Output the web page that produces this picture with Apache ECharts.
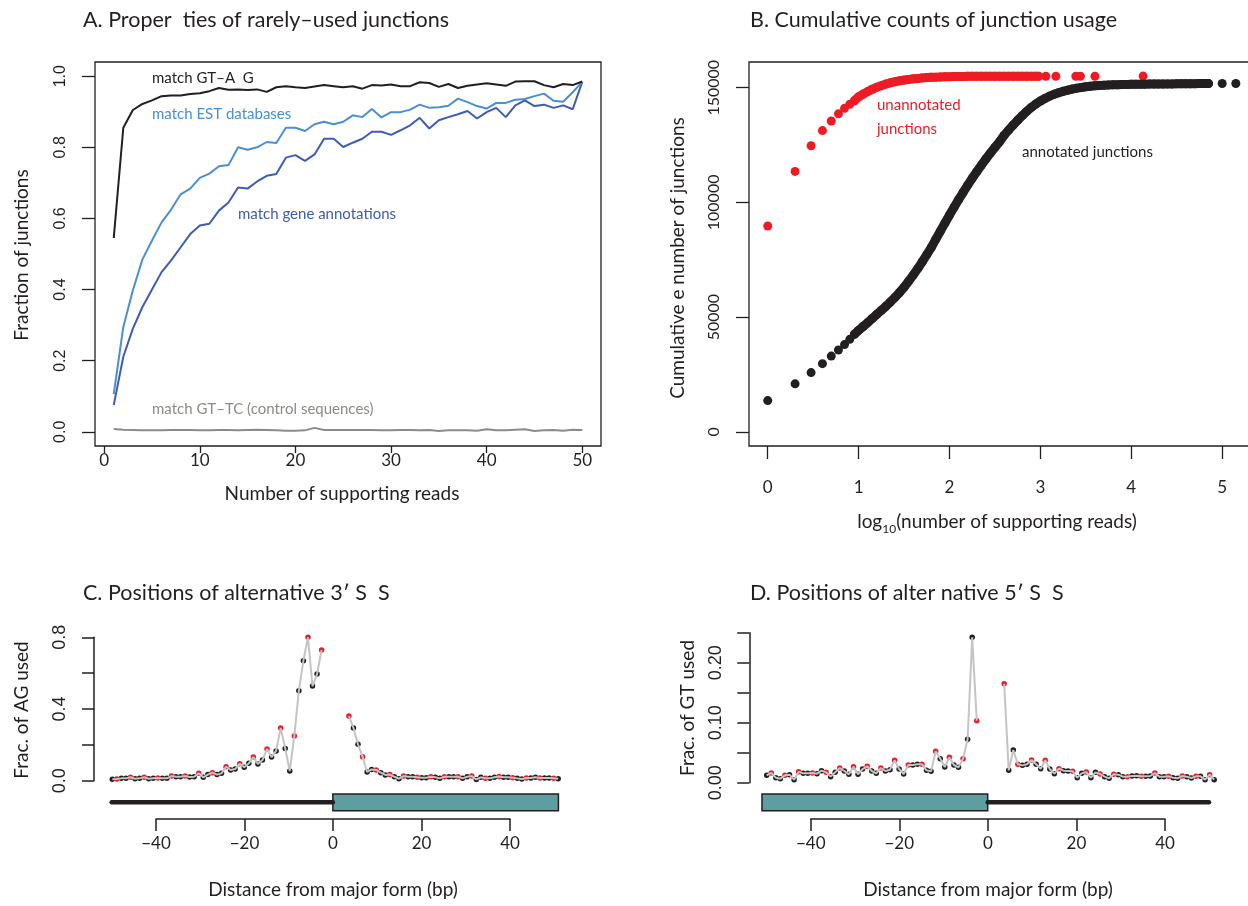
<!DOCTYPE html>
<html>
<head>
<meta charset="utf-8">
<script src="https://cdn.jsdelivr.net/npm/echarts@6/dist/echarts.min.js"></script>
<style>
  html, body { margin: 0; padding: 0; background: #ffffff; }
  #main { width: 1248px; height: 906px; }
</style>
</head>
<body>
<div id="main"></div>
<script>
// ---- panel A: fraction of junctions vs number of supporting reads
var readCounts = [1,2,3,4,5,6,7,8,9,10,11,12,13,14,15,16,17,18,19,20,21,22,23,24,25,
  26,27,28,29,30,31,32,33,34,35,36,37,38,39,40,41,42,43,44,45,46,47,48,49,50];
var fracGTAG = [0.545,0.855,0.905,0.922,0.932,0.944,0.946,0.946,0.950,0.952,0.958,0.967,0.962,0.963,0.961,
  0.963,0.956,0.969,0.972,0.969,0.967,0.971,0.975,0.972,0.969,0.972,0.965,0.975,0.974,0.977,
  0.972,0.972,0.983,0.981,0.970,0.978,0.967,0.973,0.977,0.980,0.977,0.973,0.985,0.986,0.986,
  0.975,0.969,0.978,0.975,0.985];
var fracEST = [0.106,0.295,0.398,0.485,0.538,0.589,0.625,0.668,0.684,0.714,0.726,0.747,0.750,0.800,0.793,
  0.800,0.815,0.812,0.855,0.855,0.846,0.865,0.872,0.865,0.872,0.890,0.885,0.908,0.884,0.899,
  0.899,0.906,0.920,0.911,0.913,0.917,0.937,0.927,0.916,0.909,0.925,0.925,0.934,0.936,0.944,
  0.951,0.931,0.928,0.955,0.984];
var fracGene = [0.075,0.211,0.290,0.351,0.400,0.449,0.482,0.519,0.556,0.580,0.585,0.622,0.645,0.687,0.684,
  0.704,0.720,0.725,0.771,0.778,0.762,0.780,0.824,0.824,0.801,0.813,0.824,0.844,0.844,0.835,
  0.848,0.862,0.883,0.853,0.876,0.885,0.893,0.902,0.881,0.899,0.911,0.885,0.918,0.932,0.916,
  0.920,0.911,0.918,0.907,0.984];
var fracGTTC = [0.008,0.006,0.005,0.004,0.004,0.004,0.005,0.005,0.005,0.004,0.004,0.005,0.005,0.004,0.005,
  0.006,0.005,0.004,0.003,0.003,0.004,0.011,0.005,0.005,0.005,0.005,0.005,0.005,0.004,0.004,
  0.005,0.005,0.004,0.005,0.002,0.004,0.004,0.004,0.003,0.007,0.004,0.004,0.006,0.007,0.002,
  0.004,0.005,0.003,0.006,0.005];

// ---- panel B: cumulative counts, x = log10(number of supporting reads)
var annotLog = [0,0.301,0.477,0.602,0.699,0.778,0.845,0.903,0.954,
  1.00,1.05,1.10,1.15,1.20,1.25,1.30,1.35,1.40,1.45,1.50,1.55,1.60,1.65,1.70,1.75,1.80,1.85,1.90,1.95,
  2.00,2.05,2.10,2.15,2.20,2.25,2.30,2.35,2.40,2.45,2.50,2.55,2.60,2.65,2.70,2.75,2.80,2.85,2.90,2.95,
  3.00,3.05,3.10,3.15,3.20,3.25,3.30,3.35,3.40,3.45,3.50,3.55,3.60,3.65,3.70,3.75,3.80,3.85,3.90,3.95,
  4.00,4.05,4.10,4.15,4.20,4.25,4.30,4.35,4.40,4.45,4.50,4.55,4.60,4.65,4.70,4.75,4.80,4.85,5.00,5.15];
var annotCum = [13600,20900,25800,29700,33000,35650,38000,40300,42500,
  44200,45900,47600,49400,51200,52900,54700,56600,58600,60700,63000,65600,68300,71100,74100,77200,80400,84000,87500,91000,
  94500,97900,101200,104400,107500,110500,113400,116200,118900,121500,124000,126400,129200,131500,133700,135800,137800,139700,141400,142900,
  144200,145300,146300,147100,147800,148400,148900,149400,149800,150100,150400,150650,150850,151000,151100,151200,151250,151300,151350,151400,
  151450,151480,151500,151530,151560,151580,151600,151620,151640,151660,151680,151700,151720,151740,151760,151780,151800,151800,151820,151820];
var unannotLog = [0,0.301,0.477,0.602,0.699,0.778,0.845,0.903,0.954,
  1.00,1.05,1.10,1.15,1.20,1.25,1.30,1.35,1.40,1.45,1.50,1.55,1.60,1.65,1.70,1.75,1.80,1.85,1.90,1.95,
  2.00,2.05,2.10,2.15,2.20,2.25,2.30,2.35,2.40,2.45,2.50,2.55,2.60,2.65,2.70,2.75,2.80,2.85,
  2.90,2.94,2.98,3.06,3.17,3.39,3.44,3.60,4.13];
var unannotCum = [89700,113500,124700,131300,135500,138600,141000,142800,144300,
  146000,147200,148300,149300,150200,150900,151600,152100,152600,153000,153300,153600,153850,154050,154250,154400,154500,154600,154700,154750,
  154800,154850,154900,154900,154950,154950,154950,155000,155000,155000,155000,155000,155000,155000,155000,155000,155000,155000,
  155000,155000,155000,155000,155000,155000,155000,155000,155050];
// beyond ~9 reads the original dots overlap into a solid band; these are where each band ends
var annotBand = [0.954, 4.85];
var unannotBand = [0.954, 2.98];

// ---- panel C: alternative 3' splice sites
var cPos = [-49,-48,-47,-46,-45,-44,-43,-42,-41,-40,-39,-38,-37,-36,-35,-34,-33,-32,-31,-30,-29,-28,-27,-26,
  -25,-24,-23,-22,-21,-20,-19,-18,-17,-16,-15,-14,-13,-12,-11,-10,-9,-8,-7,-6,-5,-4,-3,
  3,4,5,6,7,8,9,10,11,12,13,14,15,16,17,18,19,20,21,22,23,24,25,26,27,28,29,30,31,32,33,34,35,36,
  37,38,39,40,41,42,43,44,45,46,47,48,49];
var cFrac = [0.008,0.009,0.013,0.013,0.019,0.011,0.013,0.019,0.011,0.013,0.015,0.013,0.013,0.026,0.022,0.022,
  0.026,0.021,0.022,0.041,0.019,0.034,0.045,0.034,0.041,0.078,0.060,0.065,0.095,0.075,0.097,0.132,
  0.093,0.115,0.177,0.132,0.166,0.294,0.180,0.054,0.249,0.502,0.669,0.800,0.528,0.595,0.729,
  0.361,0.294,0.203,0.134,0.049,0.063,0.060,0.045,0.032,0.034,0.022,0.011,0.026,0.022,0.022,0.019,
  0.017,0.017,0.022,0.019,0.013,0.022,0.022,0.022,0.022,0.013,0.022,0.026,0.007,0.019,0.013,0.013,
  0.019,0.024,0.019,0.019,0.017,0.013,0.009,0.015,0.015,0.019,0.015,0.015,0.015,0.013,0.011];
var cIntron = [-50, 0];
var cExon = [0, 51];

// ---- panel D: alternative 5' splice sites
var dPos = cPos.slice();
var dFrac = [0.0123,0.0162,0.0084,0.0067,0.0123,0.0134,0.0051,0.0184,0.0156,0.0156,0.0162,0.0151,0.0201,
  0.0173,0.0101,0.0173,0.0245,0.0195,0.0139,0.0267,0.0139,0.0228,0.0273,0.0195,0.0156,0.0245,0.0195,
  0.0217,0.0373,0.0228,0.0145,0.0295,0.0295,0.0306,0.0306,0.0206,0.0189,0.0523,0.0401,0.0262,0.0423,
  0.0295,0.0256,0.0401,0.0723,0.2423,0.1034,
  0.165,0.0206,0.0545,0.0306,0.0289,0.0306,0.0378,0.0306,0.0234,0.0373,0.0228,0.0151,0.0234,0.0201,
  0.0195,0.0189,0.0084,0.0156,0.0178,0.0084,0.0173,0.0145,0.0101,0.0073,0.0139,0.0134,0.0101,0.0101,
  0.0112,0.0117,0.0106,0.0106,0.0112,0.0162,0.0101,0.0101,0.0106,0.0084,0.0073,0.0112,0.0101,0.0078,
  0.0106,0.0106,0.0051,0.0134,0.0051];
var dExon = [-51, 0];
var dIntron = [0, 50];

var INK = '#231f20';
var RED = '#ed1c24';
var MYRIAD = 'Lato';
var HELV = 'Liberation Sans';

function zip(xs, ys) {
  var out = [];
  for (var i = 0; i < xs.length; i++) out.push([xs[i], ys[i]]);
  return out;
}
function band(xs, ys, range) {
  return zip(xs, ys).filter(function (p) { return p[0] >= range[0] && p[0] <= range[1]; });
}
// gray connecting line, broken between the two flanks
function splitLine(pos, vals) {
  var out = [];
  for (var i = 0; i < pos.length; i++) {
    if (i > 0 && pos[i] - pos[i - 1] > 1) out.push([0, '-']);
    out.push([pos[i], vals[i]]);
  }
  return out;
}
// in-frame positions (multiple of 3) are red
function framePts(pos, vals, inFrame) {
  var out = [];
  for (var i = 0; i < pos.length; i++) {
    if ((pos[i] % 3 === 0) === inFrame) out.push([pos[i], vals[i]]);
  }
  return out;
}
function exonItem(params, api) {
  var p0 = api.coord([api.value(0), 1]);
  var p1 = api.coord([api.value(1), 0]);
  return {
    type: 'rect',
    shape: { x: p0[0], y: p0[1], width: p1[0] - p0[0], height: p1[1] - p0[1] },
    style: { fill: '#5f9ea0', stroke: INK, lineWidth: 1.5 }
  };
}
function minus(v) { return v < 0 ? '\u2212' + Math.abs(v) : String(v); }

var hidden = { show: false };
function hiddenAxis(grid, min, max) {
  return { gridIndex: grid, type: 'value', min: min, max: max, show: false };
}

var chart = echarts.init(document.getElementById('main'), null, { renderer: 'canvas' });

function grid(l, t, w, h, box) {
  var g = { left: l, top: t, width: w, height: h, containLabel: false, outerBoundsMode: 'none' };
  if (box) { g.show = true; g.borderColor = INK; g.borderWidth = 1.3; g.backgroundColor = 'transparent'; }
  return g;
}

var tickStyle = { color: INK, width: 1.3 };
var axisLineOn = { show: true, onZero: false, lineStyle: { color: INK, width: 1.5 } };
var axisLineOff = { show: false, onZero: false };
var dot = function (c) { return { color: c, opacity: 1, borderWidth: 0 }; };
var titleStyle = { fontFamily: MYRIAD, fontSize: 21.5, fontWeight: 'normal', color: INK };

var option = {
  animation: false,
  backgroundColor: '#ffffff',
  title: [
    { text: 'A. Proper  ties of rarely\u2013used junctions', left: 83, top: 9, padding: 0, textStyle: titleStyle },
    { text: 'B. Cumulative counts of junction usage', left: 750, top: 9, padding: 0, textStyle: titleStyle },
    { text: 'C. Positions of alternative 3\u2032 S  S', left: 83, top: 582, padding: 0, textStyle: titleStyle },
    { text: 'D. Positions of alter native 5\u2032 S  S', left: 750, top: 582, padding: 0, textStyle: titleStyle }
  ],
  grid: [
    grid(95, 62, 506, 384, true),        // 0 A
    grid(749, 62, 505, 384, true),       // 1 B
    grid(112.3, 637.3, 445.9, 143.4),    // 2 C points
    grid(111.7, 794, 442.3, 16.7),       // 3 C gene model
    grid(156, 818, 354, 1),              // 4 C axis
    grid(766.7, 632.7, 447.5, 150),      // 5 D points
    grid(766.4, 794, 442.6, 16.7),       // 6 D gene model
    grid(810.7, 818, 354.3, 1)           // 7 D axis
  ],
  xAxis: [
    { gridIndex: 0, type: 'value', min: -0.96, max: 51.96, position: 'bottom',
      axisLine: axisLineOff, splitLine: hidden,
      axisTick: { show: true, length: 7, customValues: [0, 10, 20, 30, 40, 50], lineStyle: tickStyle },
      axisLabel: { customValues: [0, 10, 20, 30, 40, 50], margin: 6, fontFamily: MYRIAD, fontSize: 17, color: INK } },
    { gridIndex: 1, type: 'value', min: -0.206, max: 5.35, position: 'bottom',
      axisLine: axisLineOff, splitLine: hidden,
      axisTick: { show: true, length: 13, customValues: [0, 1, 2, 3, 4, 5], lineStyle: tickStyle },
      axisLabel: { customValues: [0, 1, 2, 3, 4, 5], margin: 33, fontFamily: MYRIAD, fontSize: 17, color: INK } },
    hiddenAxis(2, -49, 49),
    hiddenAxis(3, -50, 50),
    { gridIndex: 4, type: 'value', min: -40, max: 40, interval: 20, position: 'bottom',
      axisLine: axisLineOn, splitLine: hidden,
      axisTick: { show: true, length: 12, lineStyle: { color: INK, width: 1.5 } },
      axisLabel: { margin: 16, fontFamily: MYRIAD, fontSize: 17, color: INK, formatter: minus } },
    hiddenAxis(5, -49, 49),
    hiddenAxis(6, -50, 50),
    { gridIndex: 7, type: 'value', min: -40, max: 40, interval: 20, position: 'bottom',
      axisLine: axisLineOn, splitLine: hidden,
      axisTick: { show: true, length: 12, lineStyle: { color: INK, width: 1.5 } },
      axisLabel: { margin: 16, fontFamily: MYRIAD, fontSize: 17, color: INK, formatter: minus } }
  ],
  yAxis: [
    { gridIndex: 0, type: 'value', min: -0.04, max: 1.04, position: 'left',
      axisLine: axisLineOff, splitLine: hidden,
      axisTick: { show: true, length: 13, customValues: [0, 0.2, 0.4, 0.6, 0.8, 1.0], lineStyle: tickStyle },
      axisLabel: { customValues: [0, 0.2, 0.4, 0.6, 0.8, 1.0], rotate: 90, margin: 26,
        fontFamily: HELV, fontSize: 16, color: INK, formatter: function (v) { return v.toFixed(1); } } },
    { gridIndex: 1, type: 'value', min: -6200, max: 161200, position: 'left',
      axisLine: axisLineOff, splitLine: hidden,
      axisTick: { show: true, length: 13, customValues: [0, 50000, 100000, 150000], lineStyle: tickStyle },
      axisLabel: { customValues: [0, 50000, 100000, 150000], rotate: 90, margin: 27,
        fontFamily: MYRIAD, fontSize: 16, color: INK, formatter: function (v) { return String(v); } } },
    { gridIndex: 2, type: 'value', min: 0, max: 0.8, offset: 18.3, position: 'left',
      axisLine: axisLineOn, splitLine: hidden,
      axisTick: { show: true, length: 12, customValues: [0, 0.2, 0.4, 0.6, 0.8], lineStyle: { color: INK, width: 1.5 } },
      axisLabel: { customValues: [0, 0.4, 0.8], rotate: 90, margin: 25,
        fontFamily: HELV, fontSize: 18, color: INK, formatter: function (v) { return v.toFixed(1); } } },
    hiddenAxis(3, 0, 1),
    hiddenAxis(4, 0, 1),
    { gridIndex: 5, type: 'value', min: 0, max: 0.25, offset: 17.4, position: 'left',
      axisLine: axisLineOn, splitLine: hidden,
      axisTick: { show: true, length: 12, customValues: [0, 0.05, 0.1, 0.15, 0.2, 0.25], lineStyle: { color: INK, width: 1.5 } },
      axisLabel: { customValues: [0, 0.1, 0.2], rotate: 90, margin: 24,
        fontFamily: HELV, fontSize: 18, color: INK, formatter: function (v) { return v.toFixed(2); } } },
    hiddenAxis(6, 0, 1),
    hiddenAxis(7, 0, 1)
  ],
  series: [
    // A
    { type: 'line', xAxisIndex: 0, yAxisIndex: 0, data: zip(readCounts, fracGTTC), showSymbol: false,
      lineStyle: { color: '#8c8c86', width: 2 } },
    { type: 'line', xAxisIndex: 0, yAxisIndex: 0, data: zip(readCounts, fracGene), showSymbol: false,
      lineStyle: { color: '#3d5db3', width: 2 } },
    { type: 'line', xAxisIndex: 0, yAxisIndex: 0, data: zip(readCounts, fracEST), showSymbol: false,
      lineStyle: { color: '#4a8fd3', width: 2 } },
    { type: 'line', xAxisIndex: 0, yAxisIndex: 0, data: zip(readCounts, fracGTAG), showSymbol: false,
      lineStyle: { color: INK, width: 2 } },
    // B: solid bands where dots merge, then the dots themselves
    { type: 'line', xAxisIndex: 1, yAxisIndex: 1, data: band(annotLog, annotCum, annotBand), showSymbol: false,
      clip: false, lineStyle: { color: INK, width: 9, cap: 'round', join: 'round' } },
    { type: 'scatter', xAxisIndex: 1, yAxisIndex: 1, data: zip(annotLog, annotCum), symbolSize: 9,
      itemStyle: dot(INK), clip: false },
    { type: 'line', xAxisIndex: 1, yAxisIndex: 1, data: band(unannotLog, unannotCum, unannotBand), showSymbol: false,
      clip: false, lineStyle: { color: RED, width: 9, cap: 'round', join: 'round' } },
    { type: 'scatter', xAxisIndex: 1, yAxisIndex: 1, data: zip(unannotLog, unannotCum), symbolSize: 9,
      itemStyle: dot(RED), clip: false },
    // C
    { type: 'line', xAxisIndex: 2, yAxisIndex: 2, data: splitLine(cPos, cFrac), showSymbol: false,
      connectNulls: false, clip: false, lineStyle: { color: '#c4c4c4', width: 2 } },
    { type: 'scatter', xAxisIndex: 2, yAxisIndex: 2, data: framePts(cPos, cFrac, false), symbolSize: 5.5,
      itemStyle: dot(INK), clip: false },
    { type: 'scatter', xAxisIndex: 2, yAxisIndex: 2, data: framePts(cPos, cFrac, true), symbolSize: 5.5,
      itemStyle: dot(RED), clip: false },
    { type: 'line', xAxisIndex: 3, yAxisIndex: 3, data: [[cIntron[0], 0.5], [cIntron[1], 0.5]], showSymbol: false,
      clip: false, lineStyle: { color: INK, width: 4.5, cap: 'round' } },
    { type: 'custom', xAxisIndex: 3, yAxisIndex: 3, data: [cExon], renderItem: exonItem,
      encode: { x: [0, 1] }, clip: false },
    // D
    { type: 'line', xAxisIndex: 5, yAxisIndex: 5, data: splitLine(dPos, dFrac), showSymbol: false,
      connectNulls: false, clip: false, lineStyle: { color: '#c4c4c4', width: 2 } },
    { type: 'scatter', xAxisIndex: 5, yAxisIndex: 5, data: framePts(dPos, dFrac, false), symbolSize: 5.5,
      itemStyle: dot(INK), clip: false },
    { type: 'scatter', xAxisIndex: 5, yAxisIndex: 5, data: framePts(dPos, dFrac, true), symbolSize: 5.5,
      itemStyle: dot(RED), clip: false },
    { type: 'line', xAxisIndex: 6, yAxisIndex: 6, data: [[dIntron[0], 0.5], [dIntron[1], 0.5]], showSymbol: false,
      clip: false, lineStyle: { color: INK, width: 4.5, cap: 'round' } },
    { type: 'custom', xAxisIndex: 6, yAxisIndex: 6, data: [dExon], renderItem: exonItem,
      encode: { x: [0, 1] }, clip: false }
  ],
  graphic: [
    // axis titles
    { type: 'text', x: 22, y: 255, rotation: Math.PI / 2,
      style: { text: 'Fraction of junctions', fill: INK, fontFamily: MYRIAD, fontSize: 19, align: 'center', verticalAlign: 'middle' } },
    { type: 'text', x: 342, y: 494,
      style: { text: 'Number of supporting reads', fill: INK, fontFamily: MYRIAD, fontSize: 19, align: 'center', verticalAlign: 'middle' } },
    { type: 'text', x: 678, y: 258, rotation: Math.PI / 2,
      style: { text: 'Cumulative e number of junctions', fill: INK, fontFamily: MYRIAD, fontSize: 19, align: 'center', verticalAlign: 'middle' } },
    { type: 'text', x: 997, y: 522,
      style: { text: '{a|log}{s|10}{a|(number of supporting reads)}', fill: INK, align: 'center', verticalAlign: 'middle',
        rich: { a: { fontFamily: MYRIAD, fontSize: 19, lineHeight: 26, fill: INK },
                s: { fontFamily: MYRIAD, fontSize: 12, lineHeight: 12, verticalAlign: 'bottom', fill: INK } } } },
    { type: 'text', x: 22, y: 710, rotation: Math.PI / 2,
      style: { text: 'Frac. of AG used', fill: INK, fontFamily: MYRIAD, fontSize: 19, align: 'center', verticalAlign: 'middle' } },
    { type: 'text', x: 333, y: 890,
      style: { text: 'Distance from major form (bp)', fill: INK, fontFamily: MYRIAD, fontSize: 19, align: 'center', verticalAlign: 'middle' } },
    { type: 'text', x: 688, y: 708, rotation: Math.PI / 2,
      style: { text: 'Frac. of GT used', fill: INK, fontFamily: MYRIAD, fontSize: 19, align: 'center', verticalAlign: 'middle' } },
    { type: 'text', x: 988, y: 890,
      style: { text: 'Distance from major form (bp)', fill: INK, fontFamily: MYRIAD, fontSize: 19, align: 'center', verticalAlign: 'middle' } },
    // in-plot annotations
    { type: 'text', x: 152, y: 78,
      style: { text: 'match GT\u2013A  G', fill: INK, fontFamily: MYRIAD, fontSize: 15, verticalAlign: 'middle' } },
    { type: 'text', x: 152, y: 114,
      style: { text: 'match EST databases', fill: '#4a8fd3', fontFamily: MYRIAD, fontSize: 15, verticalAlign: 'middle' } },
    { type: 'text', x: 238, y: 214,
      style: { text: 'match gene annotations', fill: '#3d5db3', fontFamily: MYRIAD, fontSize: 15, verticalAlign: 'middle' } },
    { type: 'text', x: 152, y: 409,
      style: { text: 'match GT\u2013TC (control sequences)', fill: '#8c8c86', fontFamily: MYRIAD, fontSize: 15, verticalAlign: 'middle' } },
    { type: 'text', x: 877, y: 105,
      style: { text: 'unannotated', fill: RED, fontFamily: MYRIAD, fontSize: 15, verticalAlign: 'middle' } },
    { type: 'text', x: 877, y: 129,
      style: { text: 'junctions', fill: RED, fontFamily: MYRIAD, fontSize: 15, verticalAlign: 'middle' } },
    { type: 'text', x: 1022, y: 152,
      style: { text: 'annotated junctions', fill: INK, fontFamily: MYRIAD, fontSize: 15, verticalAlign: 'middle' } }
  ]
};

chart.setOption(option);
</script>
</body>
</html>
